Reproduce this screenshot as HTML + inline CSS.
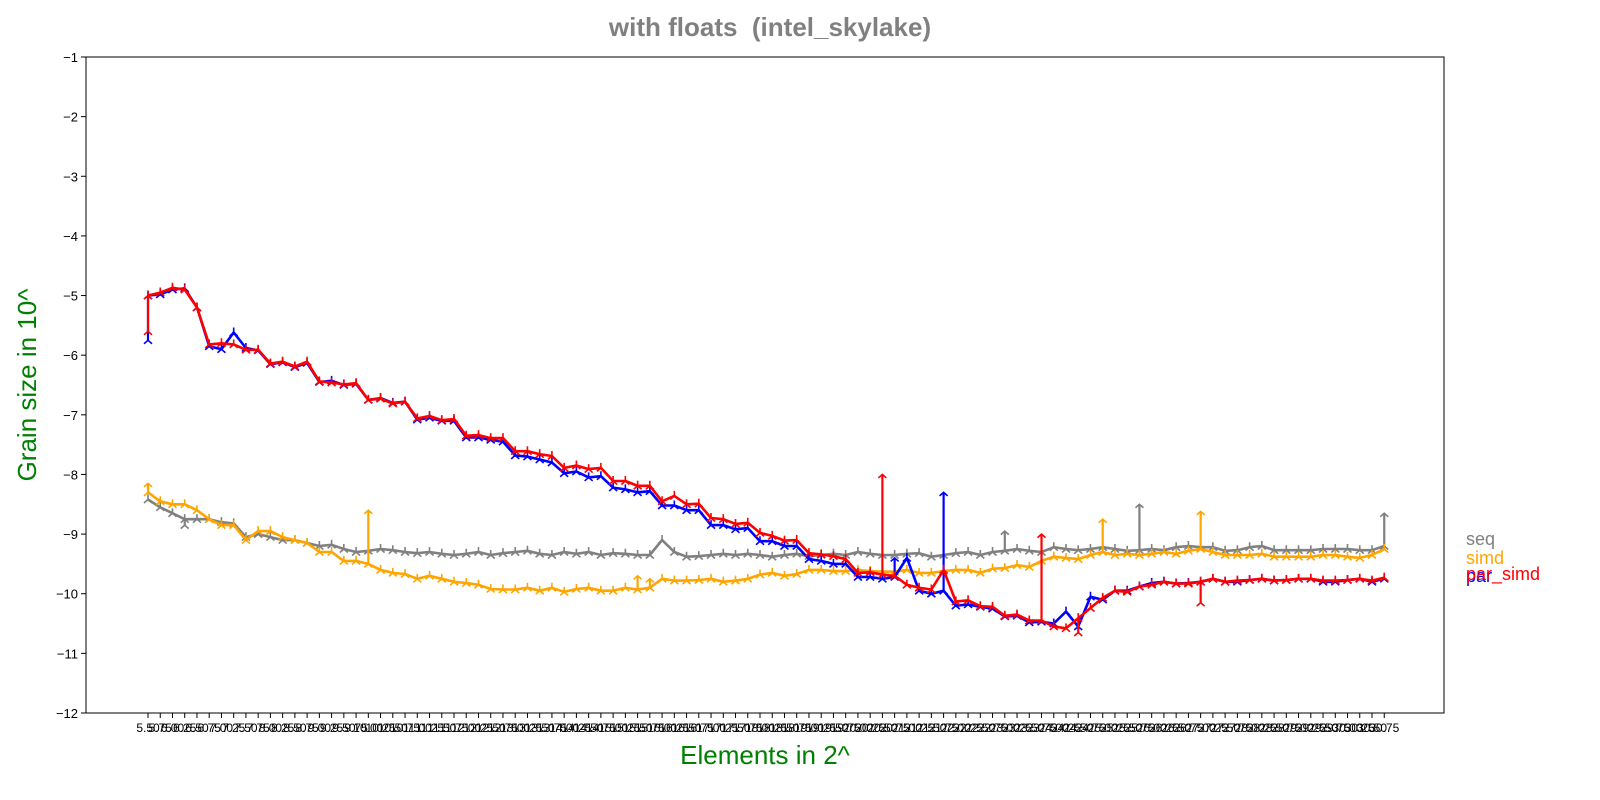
<!DOCTYPE html>
<html><head><meta charset="utf-8"><style>
html,body{margin:0;padding:0;background:#fff;overflow:hidden;width:1600px;height:800px;}
svg{display:block;font-family:"Liberation Sans","DejaVu Sans",sans-serif;}
</style></head><body>
<svg id="chart" width="1600" height="800" viewBox="0 0 1600 800">
<rect x="0" y="0" width="1600" height="800" fill="#fff"/>
<text x="770" y="36" text-anchor="middle" font-size="26" font-weight="bold" fill="#808080" xml:space="preserve">with floats  (intel_skylake)</text>
<text x="765" y="764" text-anchor="middle" font-size="26" fill="#008000">Elements in 2^</text>
<text transform="translate(36,385) rotate(-90)" text-anchor="middle" font-size="26" fill="#008000">Grain size in 10^</text>
<g id="yticks"></g>
<g id="xticks"></g>
<g id="series"></g>
<rect x="86" y="57" width="1358" height="656" fill="none" stroke="#000" stroke-width="1"/>
<g>
<text x="1466" y="545" font-size="18" fill="#808080">seq</text>
<text x="1466" y="564" font-size="18" fill="#FFA500">simd</text>
<text x="1466" y="582" font-size="18" fill="#0000FF">par</text>
<text x="1466" y="580" font-size="18" fill="#FF0000">par_simd</text>
</g>
</svg>
<script>
const yTickValues = [-1,-2,-3,-4,-5,-6,-7,-8,-9,-10,-11,-12];
const xStart = 5.5, xStep = 0.25, xCount = 102;
const seqValues = [-8.42,-8.55,-8.65,-8.75,-8.75,-8.75,-8.8,-8.82,-9.05,-9.0,-9.05,-9.1,-9.1,-9.15,-9.2,-9.18,-9.25,-9.3,-9.28,-9.25,-9.27,-9.3,-9.32,-9.3,-9.33,-9.35,-9.33,-9.3,-9.35,-9.32,-9.3,-9.28,-9.33,-9.35,-9.3,-9.33,-9.3,-9.35,-9.32,-9.33,-9.35,-9.35,-9.1,-9.3,-9.38,-9.37,-9.35,-9.33,-9.35,-9.33,-9.35,-9.38,-9.35,-9.33,-9.37,-9.35,-9.33,-9.35,-9.3,-9.33,-9.35,-9.35,-9.33,-9.32,-9.38,-9.35,-9.32,-9.3,-9.35,-9.3,-9.28,-9.25,-9.28,-9.3,-9.22,-9.25,-9.27,-9.25,-9.22,-9.25,-9.28,-9.27,-9.25,-9.27,-9.22,-9.2,-9.22,-9.22,-9.28,-9.27,-9.22,-9.2,-9.27,-9.27,-9.27,-9.27,-9.25,-9.25,-9.25,-9.27,-9.27,-9.2];
const simdValues = [-8.3,-8.45,-8.5,-8.5,-8.6,-8.75,-8.85,-8.85,-9.1,-8.95,-8.95,-9.05,-9.1,-9.15,-9.3,-9.3,-9.45,-9.45,-9.5,-9.6,-9.65,-9.67,-9.75,-9.7,-9.75,-9.8,-9.82,-9.85,-9.92,-9.93,-9.93,-9.9,-9.95,-9.9,-9.97,-9.92,-9.9,-9.95,-9.95,-9.9,-9.93,-9.9,-9.75,-9.78,-9.78,-9.77,-9.75,-9.8,-9.78,-9.75,-9.68,-9.65,-9.7,-9.67,-9.6,-9.6,-9.62,-9.62,-9.6,-9.62,-9.63,-9.63,-9.6,-9.65,-9.65,-9.62,-9.6,-9.6,-9.65,-9.58,-9.57,-9.52,-9.55,-9.45,-9.38,-9.4,-9.42,-9.35,-9.3,-9.35,-9.33,-9.35,-9.33,-9.3,-9.33,-9.28,-9.25,-9.3,-9.35,-9.35,-9.35,-9.33,-9.38,-9.38,-9.38,-9.38,-9.35,-9.35,-9.38,-9.4,-9.35,-9.25];
const parValues = [-5.0,-4.98,-4.9,-4.88,-5.2,-5.85,-5.9,-5.62,-5.88,-5.92,-6.15,-6.12,-6.2,-6.13,-6.45,-6.43,-6.5,-6.48,-6.75,-6.72,-6.8,-6.78,-7.08,-7.05,-7.1,-7.1,-7.38,-7.38,-7.42,-7.45,-7.68,-7.7,-7.75,-7.8,-7.98,-7.95,-8.05,-8.03,-8.22,-8.25,-8.3,-8.28,-8.52,-8.52,-8.6,-8.6,-8.85,-8.85,-8.92,-8.9,-9.12,-9.12,-9.2,-9.2,-9.42,-9.45,-9.5,-9.5,-9.72,-9.72,-9.75,-9.72,-9.4,-9.95,-10.0,-9.95,-10.2,-10.18,-10.22,-10.25,-10.38,-10.37,-10.48,-10.47,-10.5,-10.3,-10.55,-10.05,-10.1,-9.95,-9.95,-9.88,-9.82,-9.8,-9.83,-9.82,-9.8,-9.75,-9.8,-9.8,-9.77,-9.75,-9.78,-9.77,-9.75,-9.75,-9.8,-9.8,-9.77,-9.75,-9.8,-9.75];
const parSimdValues = [-5.0,-4.95,-4.87,-4.9,-5.2,-5.82,-5.8,-5.82,-5.91,-5.91,-6.14,-6.11,-6.19,-6.11,-6.44,-6.46,-6.49,-6.47,-6.75,-6.73,-6.81,-6.78,-7.06,-7.02,-7.09,-7.07,-7.35,-7.34,-7.39,-7.39,-7.61,-7.61,-7.66,-7.69,-7.89,-7.85,-7.91,-7.89,-8.11,-8.11,-8.19,-8.19,-8.45,-8.36,-8.5,-8.49,-8.73,-8.75,-8.83,-8.81,-8.98,-9.03,-9.11,-9.1,-9.32,-9.34,-9.37,-9.42,-9.65,-9.64,-9.68,-9.7,-9.85,-9.9,-9.93,-9.6,-10.13,-10.11,-10.21,-10.22,-10.37,-10.35,-10.45,-10.45,-10.55,-10.58,-10.41,-10.24,-10.07,-9.95,-9.97,-9.88,-9.85,-9.8,-9.83,-9.83,-9.8,-9.75,-9.8,-9.78,-9.77,-9.75,-9.78,-9.77,-9.75,-9.75,-9.78,-9.78,-9.77,-9.75,-9.78,-9.73];
const seqSpikes = [[3,-8.85],[42,-9.1],[70,-8.95],[81,-8.5],[101,-8.65]];
const simdSpikes = [[0,-8.15],[18,-8.6],[40,-9.7],[41,-9.75],[78,-8.75],[86,-8.62]];
const parSpikes = [[0,-5.75],[65,-8.3],[61,-9.4]];
const parSimdSpikes = [[0,-5.6],[60,-8.0],[73,-9.0],[76,-10.65],[86,-10.15]];

const NS = "http://www.w3.org/2000/svg";
const X0 = 148, XS = 12.24, Y0 = 57, YS = 59.636;
function xPos(i){ return X0 + XS * i; }
function yPos(v){ return Y0 + (-1 - v) * YS; }
function mk(tag, attrs, parent){ const e = document.createElementNS(NS, tag); for (const k in attrs) e.setAttribute(k, attrs[k]); parent.appendChild(e); return e; }

const yg = document.getElementById('yticks');
yTickValues.forEach(v => {
  const t = mk('line', {x1:81, x2:86, y1:yPos(v), y2:yPos(v), stroke:'#000'}, yg);
  
  
  const l = mk('text', {x:78, y:yPos(v)+5, 'text-anchor':'end', 'font-size':13, fill:'#000'}, yg);
  l.textContent = '\u2212' + Math.abs(v);
  
  
});
const xg = document.getElementById('xticks');
for (let i = 0; i < xCount; i++) {
  const t = mk('line', {x1:xPos(i), x2:xPos(i), y1:713, y2:718, stroke:'#000'}, xg);
  
  
  const l = mk('text', {x:xPos(i), y:732, 'text-anchor':'middle', 'font-size':12, fill:'#000'}, xg);
  l.textContent = (xStart + xStep * i).toFixed(2);
  
  
}
const sg = document.getElementById('series');
function drawSeries(vals, spikes, color, name){
  const g = mk('g', {}, sg);
  
  
  spikes.forEach(s => {
    const ln = mk('line', {x1:xPos(s[0]), x2:xPos(s[0]), y1:yPos(vals[s[0]]), y2:yPos(s[1]), stroke:color, 'stroke-width':2.2}, g);
    
    
    const m = mk('path', {d:`M${xPos(s[0])-4},${yPos(s[1])+3.5} L${xPos(s[0])},${yPos(s[1])} L${xPos(s[0])+4},${yPos(s[1])+3.5}`, stroke:color, fill:'none', 'stroke-width':1.6}, g);
    
    
  });
  const pts = vals.map((v,i) => xPos(i).toFixed(1) + ',' + yPos(v).toFixed(1)).join(' ');
  const pl = mk('polyline', {points:pts, fill:'none', stroke:color, 'stroke-width':2.6, 'stroke-linejoin':'round'}, g);
  
  
  vals.forEach((v,i) => {
    const x = xPos(i), y = yPos(v);
    const m = mk('path', {d:`M${x-4},${y+3.5} L${x},${y} L${x+4},${y+3.5} M${x},${y} L${x},${y-5}`, stroke:color, fill:'none', 'stroke-width':1.6}, g);
    
    
  });
}
drawSeries(seqValues, seqSpikes, '#808080', 'seq');
drawSeries(simdValues, simdSpikes, '#FFA500', 'simd');
drawSeries(parValues, parSpikes, '#0000FF', 'par');
drawSeries(parSimdValues, parSimdSpikes, '#FF0000', 'par-simd');
</script>
</body></html>
